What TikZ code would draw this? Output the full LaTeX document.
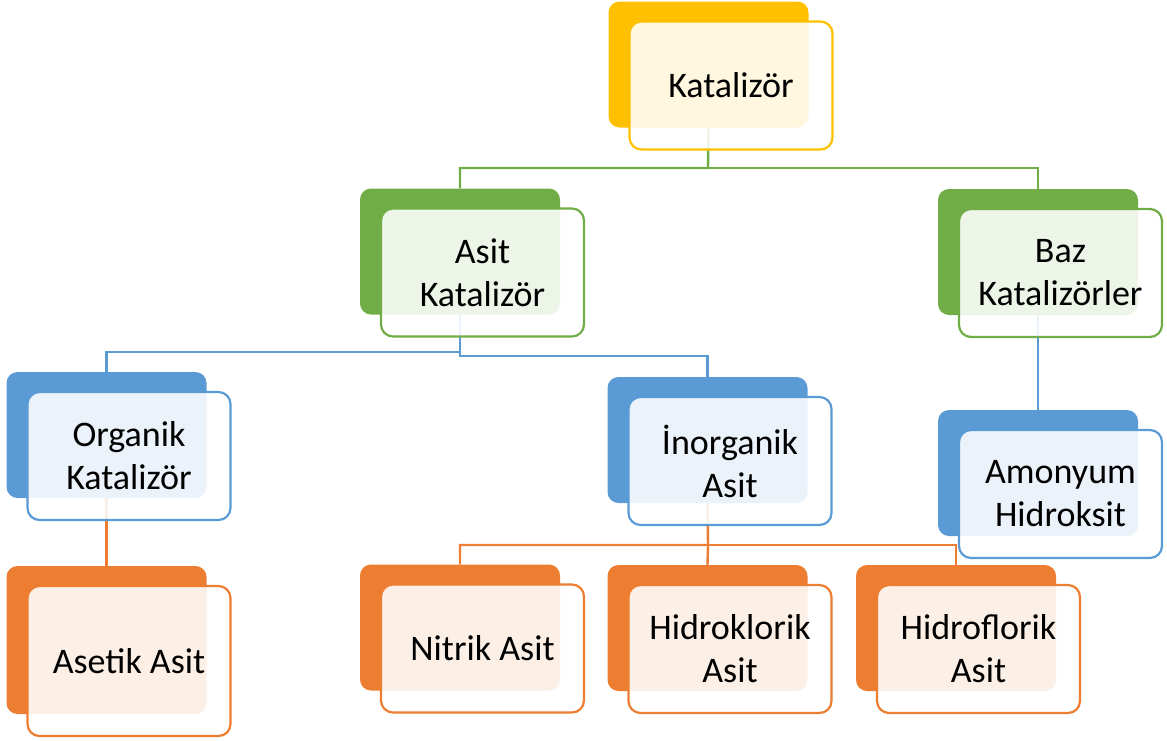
\documentclass[tikz,border=0pt]{standalone}
\usepackage{fontspec}
\setmainfont{Carlito}
\usetikzlibrary{backgrounds}

\definecolor{sari}{HTML}{FFC000}
\definecolor{yesil}{HTML}{70AD47}
\definecolor{mavi}{HTML}{5B9BD5}
\definecolor{turuncu}{HTML}{ED7D31}

\tikzset{
  arka/.style={fill=#1, rounded corners=11pt, minimum width=200pt, inner sep=0pt},
  kutu/.style={draw=#1, fill=white, fill opacity=0.88, text opacity=1, line width=2.2pt,
    rounded corners=12pt, minimum width=203pt, inner sep=0pt, align=center,
    font=\fontsize{36}{43}\selectfont},
  bag/.style={draw=#1, line width=2.4pt},
}

\begin{document}
\begin{tikzpicture}[x=1pt, y=-1pt]
        \useasboundingbox (0,0) rectangle (1167,740);

        % kutular (arka + on)
        \foreach \ad/\x/\y/\h/\renk/\metin in {
            kat/731/85.5/128/sari/Katalizör,
            asit/482.5/272.5/128/yesil/{Asit\\Katalizör},
            baz/1060.5/273/128/yesil/{Baz\\Katalizörler},
            org/129/456/128/mavi/{Organik\\Katalizör},
            inorg/730/461/128/mavi/{İnorganik\\Asit},
            amon/1060.5/494/128/mavi/{Amonyum\\Hidroksit},
            asetik/129/661/150/turuncu/Asetik Asit,
            nitrik/482.5/648.5/128/turuncu/Nitrik Asit,
            hcl/730/649/128/turuncu/{Hidroklorik\\Asit},
            hf/978.5/649/128/turuncu/{Hidroflorik\\Asit}}
        {
            \node[arka=\renk, minimum height=\h pt-2pt] (\ad b) at (\x-22.5,\y-21) {};
            \node[kutu=\renk, minimum height=\h pt] (\ad) at (\x,\y) {\metin};
        }

        % bağlantı noktaları
        \coordinate (j1) at (708,168);
        \coordinate (j2) at (460,352);
        \coordinate (j3) at (460,356);
        \coordinate (j4) at (708,545);

        % bağlantılar (arkada)
        \begin{scope}[on background layer]
            \draw[bag=yesil] (katb.south) -- (j1) -| (asitb.north);
            \draw[bag=yesil] (j1) -| (bazb.north);
            \draw[bag=mavi] (asitb.south) -- (j2) -| (orgb.north);
            \draw[bag=mavi] (asitb.south) -- (j3) -| (inorgb.north);
            \draw[bag=mavi] (bazb.south) -- (amonb.north);
            \draw[bag=turuncu] (orgb.south) -- (asetikb.north);
            \draw[bag=turuncu] (inorgb.south) -- (j4) -| (nitrikb.north);
            \draw[bag=turuncu] (j4) -- (hclb.north);
            \draw[bag=turuncu] (j4) -| (hfb.north);
        \end{scope}

\end{tikzpicture}
\end{document}
